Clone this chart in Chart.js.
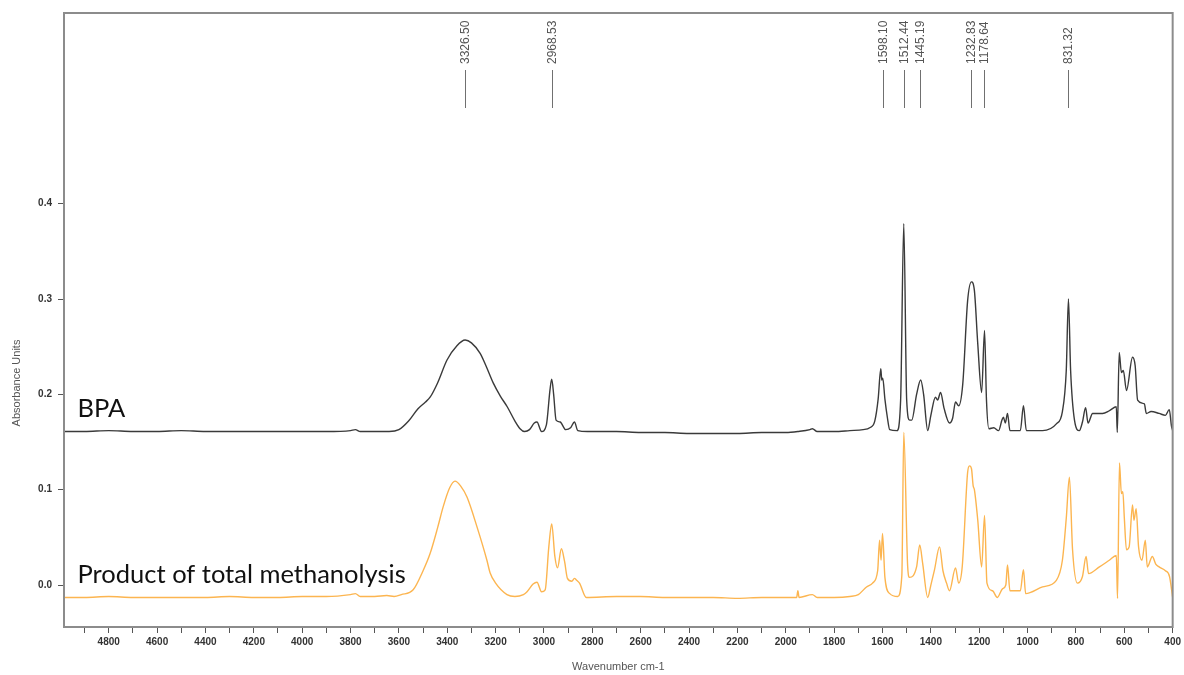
<!DOCTYPE html>
<html><head><meta charset="utf-8">
<script src="https://cdn.jsdelivr.net/npm/chart.js@4.4.0/dist/chart.umd.min.js"></script>
<style>html,body{margin:0;padding:0;background:#fff;overflow:hidden}#wrap{width:1184px;height:675px}</style>
</head><body><div id="wrap"><canvas id="c" width="1184" height="675"></canvas></div>
<script>
const bpaWavenumbers = [4985,4900,4800,4700,4600,4500,4400,4300,4200,4100,4000,3900,3800,3780,3760,3700,3640,3600,3560,3521,3490,3471,3440,3401,3360,3326,3300,3264,3240,3210,3180,3152,3120,3099,3080,3060,3040,3029,3010,2990,2975,2968,2960,2950,2933,2910,2890,2874,2860,2820,2700,2600,2500,2400,2300,2200,2100,2000,1950,1900,1890,1870,1800,1735,1680,1653,1632,1618,1607,1603,1599,1590,1580,1570,1540,1525,1512,1500,1488,1479,1459,1442,1430,1413,1400,1381,1372,1360,1345,1323,1310,1298,1285,1268,1248,1232,1220,1206,1190,1178,1170,1160,1140,1120,1106,1100,1092,1083,1073,1030,1017,1005,938,881,856,840,831,822,806,786,773,760,750,731,690,661,633,629,621,612,604,591,566,555,545,517,509,489,456,430,414,405,400];
const bpaAbsorbance = [0.161,0.161,0.162,0.161,0.161,0.162,0.161,0.161,0.161,0.161,0.161,0.161,0.162,0.163,0.161,0.161,0.161,0.163,0.172,0.185,0.192,0.197,0.212,0.236,0.251,0.257,0.254,0.243,0.230,0.212,0.198,0.187,0.172,0.164,0.161,0.163,0.170,0.171,0.161,0.168,0.205,0.216,0.200,0.173,0.171,0.163,0.165,0.171,0.162,0.161,0.161,0.160,0.160,0.159,0.159,0.159,0.160,0.160,0.161,0.163,0.164,0.161,0.161,0.162,0.163,0.165,0.172,0.195,0.227,0.215,0.217,0.195,0.176,0.163,0.162,0.194,0.379,0.194,0.173,0.173,0.200,0.215,0.200,0.162,0.178,0.197,0.194,0.202,0.185,0.170,0.175,0.192,0.188,0.211,0.298,0.318,0.309,0.253,0.202,0.267,0.194,0.164,0.165,0.162,0.173,0.176,0.170,0.180,0.162,0.162,0.188,0.162,0.162,0.169,0.182,0.225,0.300,0.225,0.173,0.162,0.171,0.186,0.170,0.180,0.180,0.183,0.187,0.160,0.244,0.223,0.225,0.204,0.239,0.230,0.194,0.190,0.180,0.182,0.180,0.178,0.184,0.167,0.162];
const productWavenumbers = [4985,4900,4800,4700,4600,4500,4400,4300,4200,4100,4000,3900,3800,3780,3760,3700,3650,3620,3590,3541,3500,3471,3440,3417,3390,3368,3345,3318,3277,3236,3223,3200,3153,3120,3085,3070,3045,3029,3010,2995,2980,2968,2955,2944,2928,2915,2903,2885,2874,2865,2853,2825,2700,2600,2500,2400,2300,2200,2100,2000,1955,1950,1945,1890,1870,1800,1735,1700,1666,1641,1620,1612,1606,1600,1590,1570,1537,1520,1512,1496,1488,1459,1446,1434,1413,1400,1385,1364,1350,1335,1323,1298,1285,1270,1248,1240,1232,1225,1220,1206,1190,1178,1168,1145,1125,1104,1090,1083,1073,1030,1017,1008,938,881,856,840,827,814,794,773,758,748,703,662,633,628,620,612,606,600,591,580,566,560,551,541,527,513,505,484,470,456,430,413,400];
const productAbsorbance = [-0.013,-0.013,-0.012,-0.013,-0.013,-0.013,-0.013,-0.012,-0.013,-0.013,-0.012,-0.012,-0.010,-0.009,-0.012,-0.012,-0.011,-0.012,-0.010,-0.005,0.015,0.033,0.060,0.082,0.102,0.109,0.104,0.092,0.061,0.026,0.013,0.002,-0.010,-0.012,-0.010,-0.007,0.001,0.003,-0.007,-0.005,0.040,0.064,0.030,0.018,0.038,0.025,0.007,0.004,0.007,0.005,0.002,-0.013,-0.012,-0.012,-0.013,-0.013,-0.013,-0.014,-0.013,-0.013,-0.013,-0.006,-0.013,-0.010,-0.013,-0.013,-0.012,-0.010,-0.002,0.002,0.015,0.047,0.026,0.054,0.008,-0.009,-0.012,0.010,0.160,0.020,0.008,0.019,0.042,0.023,-0.013,0.000,0.016,0.040,0.015,0.002,-0.006,0.018,0.002,0.020,0.118,0.125,0.122,0.104,0.100,0.068,0.019,0.073,0.002,-0.006,-0.013,-0.004,0.000,0.021,-0.006,-0.006,0.016,-0.009,-0.002,0.005,0.026,0.070,0.113,0.037,0.002,0.009,0.030,0.012,0.019,0.026,0.031,-0.014,0.128,0.096,0.098,0.071,0.037,0.040,0.084,0.068,0.080,0.040,0.026,0.047,0.019,0.030,0.022,0.019,0.015,0.009,-0.013];
const peakWavenumbers = [3326.50, 2968.53, 1598.10, 1512.44, 1445.19, 1232.83, 1178.64, 831.32];
const peakLabels = ['3326.50','2968.53','1598.10','1512.44','1445.19','1232.83','1178.64','831.32'];
const yTickValues = [0.0, 0.1, 0.2, 0.3, 0.4];
const seriesNames = ['BPA', 'Product of total methanolysis'];
const seriesNamePos = [[4929, 0.176], [4929, 0.002]];

const toXY = (xs, ys) => xs.map((w, i) => ({x: w, y: ys[i]}));
const tickFont = {family: '"Liberation Sans", Arial, sans-serif', size: 10, weight: 'bold'};

const decor = {
  id: 'decor',
  afterDraw(chart) {
    const {ctx, chartArea: a, scales: {x, y}} = chart;
    ctx.save();
    ctx.strokeStyle = '#8c8c8c'; ctx.lineWidth = 2;
    ctx.strokeRect(a.left, a.top, a.right - a.left, a.bottom - a.top);
    ctx.strokeStyle = '#707070'; ctx.lineWidth = 1;
    ctx.fillStyle = '#555'; ctx.font = '12px "Liberation Sans", Arial, sans-serif';
    peakWavenumbers.forEach((w, i) => {
      const px = Math.round(x.getPixelForValue(w)) + 0.5;
      ctx.beginPath(); ctx.moveTo(px, a.top + 57); ctx.lineTo(px, a.top + 95); ctx.stroke();
      ctx.save(); ctx.translate(px, a.top + 51); ctx.rotate(-Math.PI / 2);
      ctx.textAlign = 'left'; ctx.textBaseline = 'middle';
      ctx.fillText(peakLabels[i], 0, 0); ctx.restore();
    });
    ctx.fillStyle = '#111'; ctx.font = '25.5px Lato, "Open Sans", sans-serif';
    ctx.textAlign = 'left'; ctx.textBaseline = 'alphabetic';
    seriesNames.forEach((t, i) => {
      ctx.fillText(t, x.getPixelForValue(seriesNamePos[i][0]), y.getPixelForValue(seriesNamePos[i][1]));
    });
    ctx.fillStyle = '#555'; ctx.font = '11px "Liberation Sans", Arial, sans-serif';
    ctx.textAlign = 'center'; ctx.textBaseline = 'middle';
    ctx.fillText('Wavenumber cm-1', (a.left + a.right) / 2, 667);
    ctx.save(); ctx.translate(17, 383); ctx.rotate(-Math.PI / 2);
    ctx.fillText('Absorbance Units', 0, 0); ctx.restore();
    ctx.restore();
  }
};

new Chart(document.getElementById('c'), {
  type: 'line',
  data: {
    datasets: [
      {label: seriesNames[0], data: toXY(bpaWavenumbers, bpaAbsorbance), borderColor: '#3a3a3a', borderWidth: 1.4, pointRadius: 0, cubicInterpolationMode: 'monotone'},
      {label: seriesNames[1], data: toXY(productWavenumbers, productAbsorbance), borderColor: '#fcb550', borderWidth: 1.4, pointRadius: 0, cubicInterpolationMode: 'monotone'}
    ]
  },
  options: {
    responsive: false, animation: false, devicePixelRatio: 1,
    layout: {padding: {top: 13, right: 10, left: 0, bottom: 0}},
    plugins: {legend: {display: false}, tooltip: {enabled: false}},
    scales: {
      x: {
        type: 'linear', reverse: true, min: 400, max: 4985,
        afterFit: s => { s.height = 48; },
        border: {display: false},
        grid: {drawOnChartArea: false, drawTicks: true, tickLength: 6, color: '#555'},
        ticks: {stepSize: 100, includeBounds: false, autoSkip: false, maxRotation: 0, padding: 3, color: '#333', font: tickFont,
          callback: v => (Math.round(v) % 200 === 0 ? String(Math.round(v)) : '')}
      },
      y: {
        type: 'linear', min: -0.044, max: 0.6,
        afterFit: s => { s.width = 64; },
        afterBuildTicks: s => { s.ticks = yTickValues.map(v => ({value: v})); },
        border: {display: false},
        grid: {drawOnChartArea: false, drawTicks: true, tickLength: 6, color: '#555'},
        ticks: {padding: 6, color: '#333', font: tickFont, callback: v => Number(v).toFixed(1)}
      }
    }
  },
  plugins: [decor]
});
</script></body></html>
